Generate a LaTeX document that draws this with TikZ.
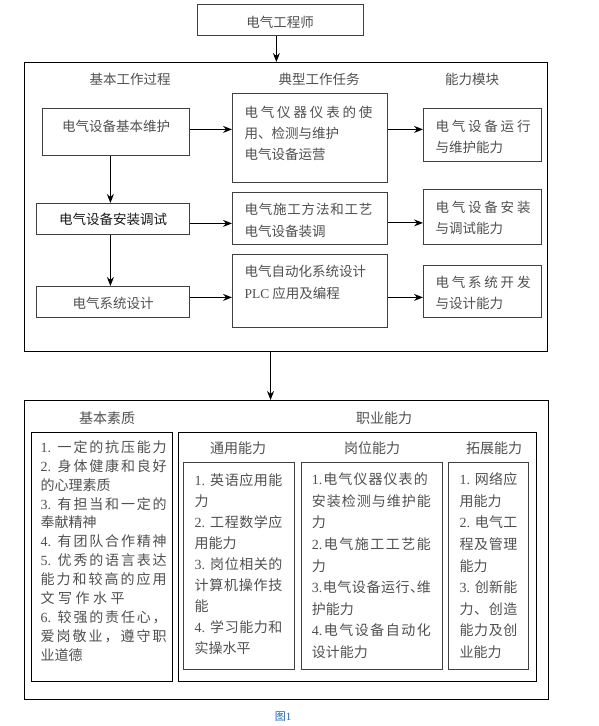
\documentclass[tikz,border=0pt]{standalone}
\usepackage{fontspec}
\newfontfamily\cjk{Noto Sans CJK SC}
\newfontfamily\lat{Liberation Serif}
\usetikzlibrary{arrows.meta}
\definecolor{txtgray}{HTML}{505050}
\definecolor{boxgray}{HTML}{404040}
\definecolor{capblue}{HTML}{1E62C8}
\makeatletter
\def\jl@stop{\relax}
\def\jl@stopm{\jl@stop}
\def\jl@first#1{{#1}\jl@next}
\def\jl@next#1{\def\jl@arg{#1}\ifx\jl@arg\jl@stopm\else\hfil{#1}\expandafter\jl@next\fi}
\newcommand\jline[2]{\makebox[#1][s]{\jl@first#2\jl@stop}}
\makeatother
\newcommand\tp{\rule{0pt}{0.88em}}
\newcommand\ndun{\makebox[6pt][l]{、}}
\tikzset{
  box/.style={draw=boxgray, line width=0.8pt, inner sep=0pt, anchor=north west},
  outerbox/.style={draw=black, line width=1.1pt, inner sep=0pt, anchor=north west},
  txt/.style={inner sep=0pt, text=txtgray, font=\cjk\fontsize{13.5}{21}\selectfont},
  ltxt/.style={txt, font=\cjk\fontsize{14}{21}\selectfont},
  blk/.style={txt, anchor=north west, align=left},
  arr/.style={-{Stealth[length=9pt,width=7pt,inset=3pt]}, line width=1.1pt, draw=black},
}
\begin{document}
\begin{tikzpicture}[x=1pt,y=-1pt]
\useasboundingbox (0,0) rectangle (599,726);
\fill[white] (0,0) rectangle (599,726);
% boxes
\node[box, minimum width=166pt, minimum height=31pt] (T) at (197,4) {};
\node[outerbox, minimum width=523pt, minimum height=289pt] (O1) at (24,62) {};
\node[box, minimum width=147pt, minimum height=47pt] (A) at (42,108) {};
\node[box, minimum width=155pt, minimum height=89pt] (B) at (232,93) {};
\node[box, minimum width=118pt, minimum height=53pt] (C) at (423,108) {};
\node[box, minimum width=153pt, minimum height=31pt] (D) at (36,203) {};
\node[box, minimum width=155pt, minimum height=52pt] (E) at (232,192) {};
\node[box, minimum width=118pt, minimum height=55pt] (F) at (423,189) {};
\node[box, minimum width=153pt, minimum height=31pt] (G) at (36,286) {};
\node[box, minimum width=155pt, minimum height=73pt] (H) at (232,254) {};
\node[box, minimum width=118pt, minimum height=52pt] (I) at (423,265) {};
\node[outerbox, minimum width=524pt, minimum height=299pt] (O2) at (24,400) {};
\node[box, draw=black, minimum width=141pt, minimum height=249pt] (L) at (31,432) {};
\node[box, draw=black, minimum width=358pt, minimum height=249pt] (M) at (178,432) {};
\node[box, minimum width=111pt, minimum height=207pt] (M1) at (183,462) {};
\node[box, minimum width=141pt, minimum height=207pt] (M2) at (301,462) {};
\node[box, minimum width=80pt, minimum height=207pt] (M3) at (448,462) {};
% arrows
\draw[arr] ([xshift=-4pt]T.south) -- ([xshift=-4pt]T.south |- O1.north);
\draw[arr] ([yshift=2.5pt]A.east) -- ([yshift=2.5pt]A.east -| B.west);
\draw[arr] ([yshift=2.5pt]A.east -| B.east) -- ([yshift=2.5pt]A.east -| C.west);
\draw[arr] ([xshift=-5.5pt]A.south) -- ([xshift=-5.5pt]A.south |- D.north);
\draw[arr] ([yshift=-4.5pt]D.east) -- ([yshift=-4.5pt]D.east -| E.west);
\draw[arr] ([yshift=-4pt]D.east -| E.east) -- ([yshift=-4pt]D.east -| F.west);
\draw[arr] ([xshift=-2.5pt]D.south) -- ([xshift=-2.5pt]D.south |- G.north);
\draw[arr] ([yshift=4.5pt]G.east) -- ([yshift=4.5pt]G.east -| H.west);
\draw[arr] ([yshift=4.5pt]G.east -| H.east) -- ([yshift=4.5pt]G.east -| I.west);
\draw[arr] ([xshift=-15.5pt]O1.south) -- ([xshift=-15.5pt]O1.south |- O2.north);
% upper texts
\node[txt] (tT) at (280,22) {电气工程师};
\node[txt] (h1) at (130,79) {基本工作过程};
\node[txt] (h2) at (319,79) {典型工作任务};
\node[txt] (h3) at (472,79) {能力模块};
\node[txt] (tA) at (116,126) {电气设备基本维护};
\node[txt, text=black!90] (tD) at (113,219) {电气设备安装调试};
\node[txt] (tG) at (113,303) {电气系统设计};
\node[blk] (tB) at (244.3,105.25) {\tp\jline{128pt}{电气仪器仪表的使}\\用、检测与维护\\电气设备运营};
\node[blk] (tC) at (435.3,119.25) {\tp\jline{95pt}{电气设备运行}\\与维护能力};
\node[blk, font=\cjk\fontsize{13.5}{22}\selectfont] (tE) at (244.3,202.25) {\tp\jline{128pt}{电气施工方法和工艺}\\电气设备装调};
\node[blk] (tF) at (435.3,200.25) {\tp\jline{95pt}{电气设备安装}\\与调试能力};
\node[blk, font=\cjk\fontsize{13.5}{22}\selectfont] (tH) at (244.3,264.25) {\tp 电气自动化系统设计\\{\lat PLC} 应用及编程};
\node[blk] (tI) at (435.3,275.25) {\tp\jline{95pt}{电气系统开发}\\与设计能力};
% lower labels
\node[ltxt] (l1) at (107,418) {基本素质};
\node[ltxt] (l2) at (384,418) {职业能力};
\node[ltxt] (l3) at (238,448) {通用能力};
\node[ltxt] (l4) at (372,448) {岗位能力};
\node[ltxt] (l5) at (494,448) {拓展能力};
% lower blocks
\node[blk, font=\cjk\fontsize{14}{18.94}\selectfont] (tL) at (40.5,439.7) {\tp\jline{126pt}{{\lat 1. }一定的抗压能力}\\
\jline{126pt}{{\lat 2. }身体健康和良好}\\
的心理素质\\
\jline{126pt}{{\lat 3. }有担当和一定的}\\
奉献精神\\
\jline{126pt}{{\lat 4. }有团队合作精神}\\
\jline{126pt}{{\lat 5. }优秀的语言表达}\\
\jline{126pt}{能力和较高的应用}\\
\jline{84pt}{文写作水平}\\
\jline{126pt}{{\lat 6. }较强的责任心，}\\
\jline{126pt}{爱岗敬业，遵守职}\\
业道德};
\node[blk, font=\cjk\fontsize{14}{21.04}\selectfont] (tM1) at (194.3,473) {\tp\jline{88pt}{{\lat 1. }英语应用能}\\
力\\
\jline{88pt}{{\lat 2. }工程数学应}\\
用能力\\
\jline{88pt}{{\lat 3. }岗位相关的}\\
\jline{88pt}{计算机操作技}\\
能\\
\jline{88pt}{{\lat 4. }学习能力和}\\
实操水平};
\node[blk, font=\cjk\fontsize{14}{21.55}\selectfont] (tM2) at (311.6,472.3) {\tp\jline{116pt}{{\lat 1.}电气仪器仪表的}\\
\jline{119pt}{安装检测与维护能}\\
力\\
\jline{119pt}{{\lat 2.}电气施工工艺能}\\
力\\
\jline{119pt}{{\lat 3.}电气设备运行{\ndun}维}\\
护能力\\
\jline{119pt}{{\lat 4.}电气设备自动化}\\
设计能力};
\node[blk, font=\cjk\fontsize{14}{21.55}\selectfont] (tM3) at (459.3,472.3) {\tp\jline{58pt}{{\lat 1. }网络应}\\
用能力\\
\jline{58pt}{{\lat 2. }电气工}\\
\jline{58pt}{程及管理}\\
能力\\
\jline{58pt}{{\lat 3. }创新能}\\
\jline{58pt}{力、创造}\\
\jline{58pt}{能力及创}\\
业能力};
% caption
\node[txt, text=capblue, font=\cjk\fontsize{11}{13}\selectfont] (cap) at (283,717) {图{\lat 1}};
\end{tikzpicture}
\end{document}
